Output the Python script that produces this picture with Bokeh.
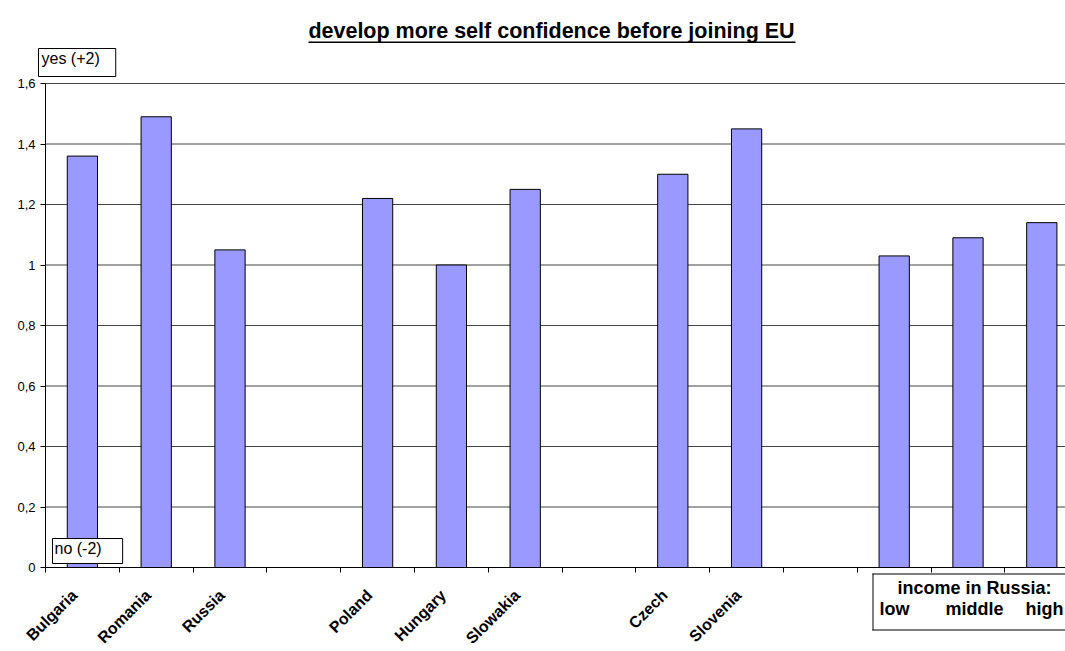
import math
from bokeh.plotting import figure
from bokeh.models import FixedTicker, CustomJSTickFormatter, Label, BoxAnnotation, Range1d
from bokeh.embed import file_html
from bokeh.resources import INLINE

# ---------------- data ----------------
title_text = "develop more self confidence before joining EU"
slot_labels = ["Bulgaria", "Romania", "Russia", "", "Poland", "Hungary", "Slowakia", "",
               "Czech", "Slovenia", "", "low", "middle", "high"]
values = [1.36, 1.49, 1.05, None, 1.22, 1.00, 1.25, None, 1.30, 1.45, None, 1.03, 1.09, 1.14]
income_slots = ["low", "middle", "high"]
y_ticks = [0, 0.2, 0.4, 0.6, 0.8, 1.0, 1.2, 1.4, 1.6]
top_note = "yes (+2)"
bottom_note = "no (-2)"
income_title = "income in Russia:"

FONT = "Liberation Sans"
W, H = 1065, 651
# layout: data x=0 at px 45, one slot = 73.8 px; data y=0 at px 567, 1.6 at px 83
X0, SX = 45.0, 73.8
Y0, SY = 567.0, (567.0 - 83.0) / 1.6
LABEL_SHIFT = 0.11   # rotated category labels sit slightly left of the slot centre


def dx(px):
    return (px - X0) / SX


def dy(py):
    return (Y0 - py) / SY


xs = [i + 0.5 for i, v in enumerate(values) if v is not None]
tops = [v for v in values if v is not None]

p = figure(width=W, height=H, output_backend="svg", toolbar_location=None,
           x_range=Range1d(dx(0), dx(W)), y_range=Range1d(dy(H), dy(0)),
           min_border=0, min_border_left=0, min_border_right=0,
           min_border_top=0, min_border_bottom=0)
p.outline_line_color = None
p.background_fill_color = "white"
p.border_fill_color = "white"

# horizontal grid lines (from the axis to the right edge)
grid_y = y_ticks[1:]
p.segment(x0=[0] * len(grid_y), x1=[dx(W)] * len(grid_y), y0=grid_y, y1=grid_y,
          line_color="#444444", line_width=1)

p.vbar(x=xs, top=tops, bottom=0, width=0.41, fill_color="#9999FF",
       line_color="black", line_width=1)

# y axis
p.xgrid.visible = False
p.ygrid.visible = False
p.yaxis.fixed_location = 0
p.yaxis.bounds = (0, 1.6)
p.yaxis.ticker = FixedTicker(ticks=y_ticks, minor_ticks=[])
p.yaxis.formatter = CustomJSTickFormatter(
    code="var s = (Math.round(tick*10)/10).toString(); return s.replace('.', ',');")
p.yaxis.axis_line_color = "black"
p.yaxis.major_tick_line_color = "black"
p.yaxis.major_tick_out = 5
p.yaxis.major_tick_in = 0
p.yaxis.minor_tick_line_color = None
p.yaxis.major_label_text_font = FONT
p.yaxis.major_label_text_font_size = "13px"
p.yaxis.major_label_text_color = "black"
p.yaxis.major_label_standoff = 5

# x axis
label_pos = [i + 0.5 - LABEL_SHIFT for i, n in enumerate(slot_labels)
             if n and n not in income_slots]
p.xaxis.fixed_location = 0
p.xaxis.bounds = (0, dx(W))
p.xaxis.ticker = FixedTicker(ticks=label_pos, minor_ticks=list(range(0, len(slot_labels))))
p.xaxis.formatter = CustomJSTickFormatter(
    args=dict(labels=slot_labels),
    code="var i = Math.floor(tick + 1e-6); return labels[i] || '';")
p.xaxis.major_label_orientation = math.pi / 4
p.xaxis.axis_line_color = "black"
p.xaxis.major_tick_line_color = None
p.xaxis.major_tick_out = 5
p.xaxis.major_tick_in = 0
p.xaxis.minor_tick_line_color = "black"
p.xaxis.minor_tick_out = 5
p.xaxis.minor_tick_in = 0
p.xaxis.major_label_text_font = FONT
p.xaxis.major_label_text_font_style = "bold"
p.xaxis.major_label_text_font_size = "16px"
p.xaxis.major_label_text_color = "black"
p.xaxis.major_label_standoff = 20

# title with underline
p.add_layout(Label(x=dx(551), y=dy(18), text=title_text, text_align="center",
                   text_baseline="top", text_font=FONT, text_font_style="bold",
                   text_font_size="21.5px", text_color="black"))
p.add_layout(BoxAnnotation(left=dx(308), right=dx(795), top=dy(41), bottom=dy(42.5),
                           fill_color="black", fill_alpha=1, line_color=None))

# note boxes
p.add_layout(Label(x=dx(38), y=dy(48), text=top_note, text_align="left", text_baseline="top",
                   text_font=FONT, text_font_size="16px", text_color="black",
                   background_fill_color="white", border_line_color="black",
                   padding=dict(left=3, right=16, top=1, bottom=10)))
p.add_layout(Label(x=dx(52), y=dy(538), text=bottom_note, text_align="left", text_baseline="top",
                   text_font=FONT, text_font_size="16px", text_color="black",
                   background_fill_color="white", border_line_color="black",
                   padding=dict(left=2, right=21, top=1, bottom=7)))

# income box (runs past the right edge, as in the reference: no right border)
p.add_layout(BoxAnnotation(left=dx(872), right=dx(W + 40), top=dy(573), bottom=dy(630),
                           fill_color="white", fill_alpha=1, line_color=None))
for (l, r, t, b) in [(872, W + 40, 573, 574), (872, W + 40, 629, 630), (872, 873, 573, 630)]:
    p.add_layout(BoxAnnotation(left=dx(l), right=dx(r), top=dy(t), bottom=dy(b),
                               fill_color="black", fill_alpha=1, line_color=None))
p.add_layout(Label(x=dx(897), y=dy(577), text=income_title, text_align="left", text_baseline="top",
                   text_font=FONT, text_font_style="bold", text_font_size="18px",
                   text_color="black"))
p.add_layout(Label(x=dx(894), y=dy(598), text=income_slots[0], text_align="center",
                   text_baseline="top", text_font=FONT, text_font_style="bold",
                   text_font_size="18px", text_color="black"))
p.add_layout(Label(x=dx(974), y=dy(598), text=income_slots[1], text_align="center",
                   text_baseline="top", text_font=FONT, text_font_style="bold",
                   text_font_size="18px", text_color="black"))
p.add_layout(Label(x=dx(1063), y=dy(598), text=income_slots[2], text_align="right",
                   text_baseline="top", text_font=FONT, text_font_style="bold",
                   text_font_size="18px", text_color="black"))

open("out.html", "w").write(file_html(p, INLINE))
